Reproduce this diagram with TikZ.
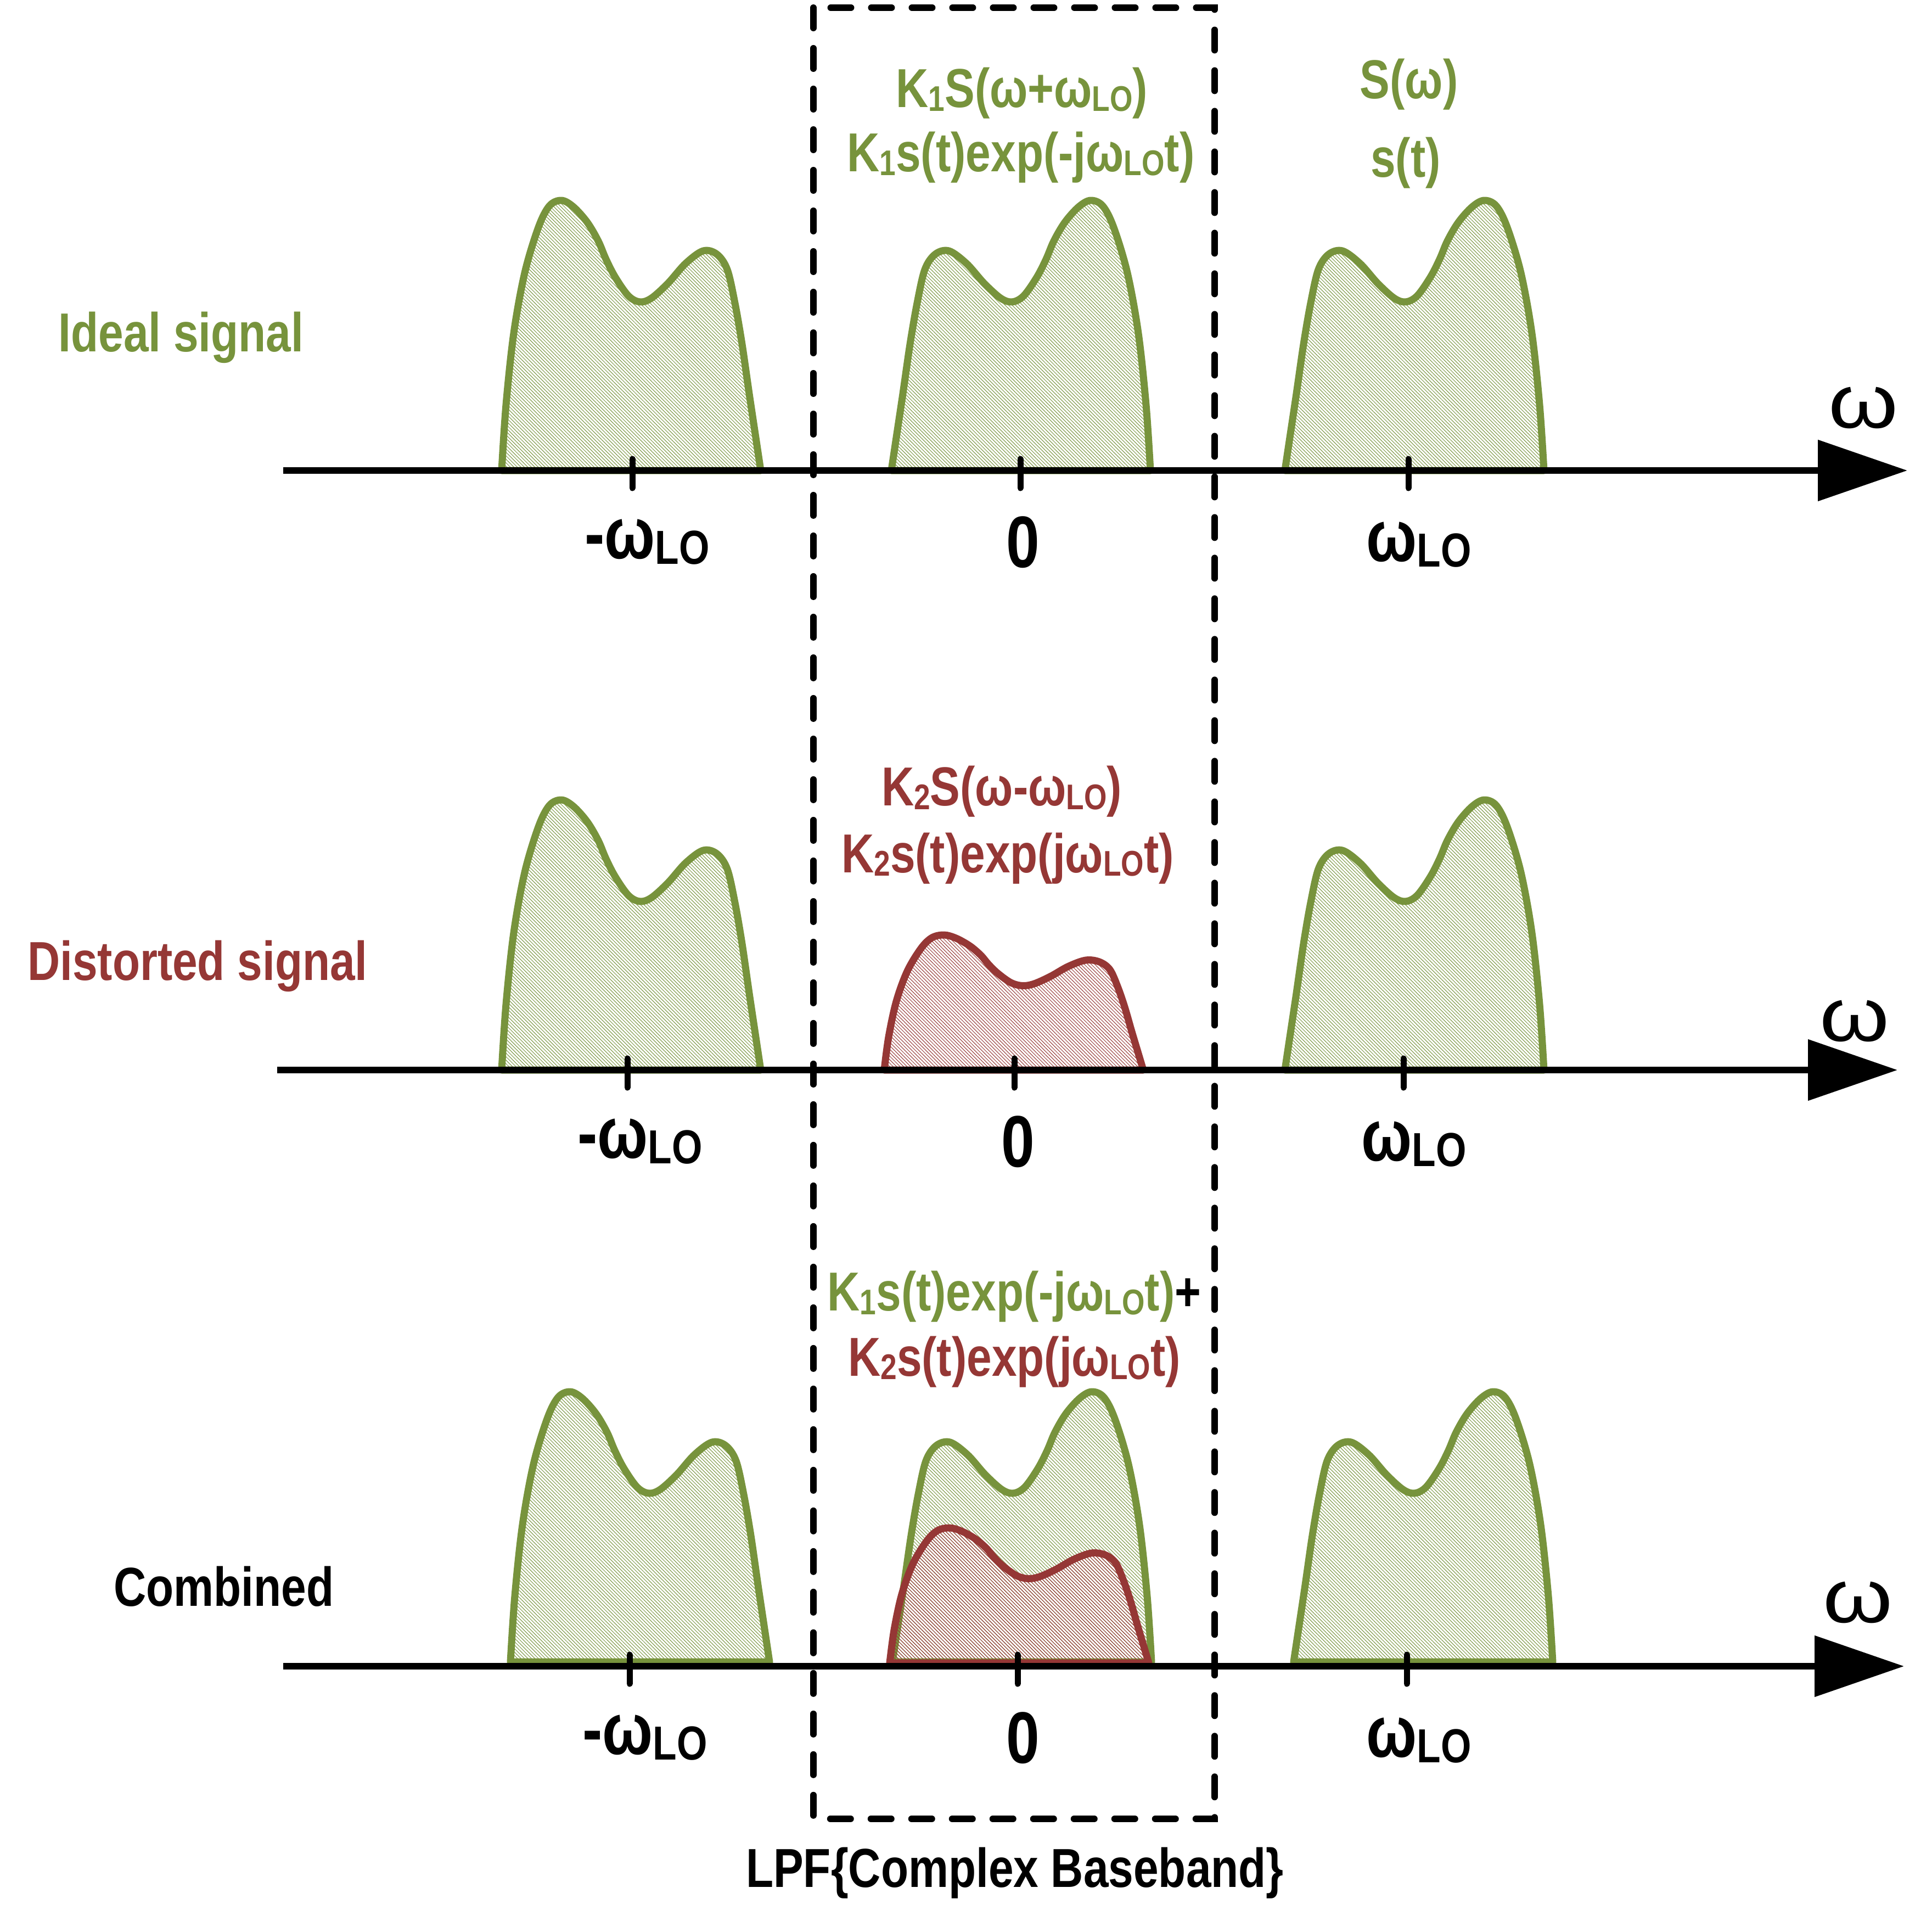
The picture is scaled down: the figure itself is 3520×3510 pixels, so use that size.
\documentclass[tikz,border=0pt]{standalone}
\usepackage{fontspec}
\setmainfont{Liberation Sans}[FakeStretch=0.82]
\newfontfamily\omegafont{Liberation Sans}
\usetikzlibrary{arrows.meta,patterns.meta}
\definecolor{gcol}{HTML}{77933C}
\definecolor{rcol}{HTML}{953735}
\newcommand{\lsub}[1]{\raisebox{-0.7pt}{\fontsize{6.5pt}{7pt}\selectfont #1}}
\newcommand{\bsub}[1]{\raisebox{-1pt}{\fontsize{8.7pt}{9pt}\selectfont #1}}
\newcommand{\lobeshape}[2]{\begin{scope}[#2]\draw[#1] plot[smooth,tension=0.55] coordinates {(-237,0) (-229,-120) (-215,-250) (-195,-360) (-170,-443) (-150,-482) (-128,-492) (-106,-480) (-81,-452) (-61,-418) (-47,-385) (-30,-352) (-6,-318) (15,-307) (36,-314) (66,-341) (98,-377) (130,-400) (155,-394) (174,-366) (188,-305) (201,-230) (214,-140) (226,-60) (235,0)} -- cycle;\end{scope}}
\begin{document}
\begin{tikzpicture}[x=0.1pt,y=-0.1pt,
  globe/.style={draw=gcol,line width=1.3pt,line join=round,pattern={Lines[angle=-45,distance=0.45pt,line width=0.1pt]},pattern color=gcol},
  rlobe/.style={draw=rcol,line width=1.3pt,line join=round,pattern={Lines[angle=-45,distance=0.45pt,line width=0.1pt]},pattern color=rcol},
  axis/.style={line width=1.2pt,-{Triangle[length=16.3pt,width=10.9pt]}},
  tick/.style={line width=1.1pt,line cap=round},
  dashbox/.style={line width=1.2pt,line cap=round,dash pattern=on 3.7pt off 3.7pt},
  lbl/.style={inner sep=0pt,anchor=base,font=\fontsize{10pt}{12pt}\selectfont\bfseries},
  axlbl/.style={inner sep=0pt,anchor=base,font=\fontsize{13.3pt}{15pt}\selectfont\bfseries},
  wlbl/.style={inner sep=0pt,anchor=base,font=\omegafont\fontsize{13.8pt}{15pt}\selectfont}]
\useasboundingbox (0,0) rectangle (3520,3510);

% ---------- top panel ----------
\lobeshape{globe}{shift={(1151,857)}}
\lobeshape{globe}{shift={(1859,857)},xscale=-1}
\lobeshape{globe}{shift={(2576,857)},xscale=-1}
\coordinate (a1s) at (516,857);
\coordinate (a1e) at (3475,857);
\draw[axis] (a1s) -- (a1e);
\foreach \x in {1152,1859,2566}{\draw[tick] (\x,836) -- (\x,889);}

% ---------- middle panel ----------
\lobeshape{globe}{shift={(1151,1949)}}
\lobeshape{rlobe}{shift={(1848,1949)},yscale=0.5}
\lobeshape{globe}{shift={(2576,1949)},xscale=-1}
\coordinate (a2s) at (505,1949);
\coordinate (a2e) at (3457,1949);
\draw[axis] (a2s) -- (a2e);
\foreach \x in {1143,1848,2557}{\draw[tick] (\x,1928) -- (\x,1981);}

% ---------- bottom panel ----------
\lobeshape{globe}{shift={(1167,3027)}}
\lobeshape{globe}{shift={(1861,3027)},xscale=-1}
\lobeshape{rlobe}{shift={(1858,3029)},yscale=0.5}
\lobeshape{globe}{shift={(2592,3027)},xscale=-1}
\coordinate (a3s) at (516,3035);
\coordinate (a3e) at (3469,3035);
\draw[axis] (a3s) -- (a3e);
\foreach \x in {1147,1854,2563}{\draw[tick] (\x,3014) -- (\x,3067);}

% ---------- LPF box ----------
\coordinate (boxtl) at (1482,14);
\coordinate (boxbr) at (2213,3313);
\draw[dashbox] (boxtl) rectangle (boxbr);

% ---------- axis labels ----------
\node[axlbl] (t1) at (1179,1017) {-ω\bsub{LO}};
\node[axlbl] (t2) at (1864,1033) {0};
\node[axlbl] (t3) at (2585,1022) {ω\bsub{LO}};
\node[axlbl] (m1) at (1166,2109) {-ω\bsub{LO}};
\node[axlbl] (m2) at (1855,2125) {0};
\node[axlbl] (m3) at (2576,2114) {ω\bsub{LO}};
\node[axlbl] (b1) at (1175,3195) {-ω\bsub{LO}};
\node[axlbl] (b2) at (1864,3211) {0};
\node[axlbl] (b3) at (2585,3200) {ω\bsub{LO}};

\node[wlbl] (w1) at (3395,780) {\scalebox{1.18}[1]{ω}};
\node[wlbl] (w2) at (3379,1896) {\scalebox{1.18}[1]{ω}};
\node[wlbl] (w3) at (3385,2955) {\scalebox{1.18}[1]{ω}};

% ---------- signal labels ----------
\node[lbl,text=gcol] (k1S) at (1862,195) {K\lsub{1}S(ω+ω\lsub{LO})};
\node[lbl,text=gcol] (k1s) at (1860,313) {K\lsub{1}s(t)exp(-jω\lsub{LO}t)};
\node[lbl,text=gcol] (Sw) at (2567,180) {S(ω)};
\node[lbl,text=gcol] (st) at (2561,322) {s(t)};
\node[lbl,text=rcol] (k2S) at (1825,1468) {K\lsub{2}S(ω-ω\lsub{LO})};
\node[lbl,text=rcol] (k2s) at (1836,1589) {K\lsub{2}s(t)exp(jω\lsub{LO}t)};
\node[lbl,text=gcol] (c1) at (1848,2387) {K\lsub{1}s(t)exp(-jω\lsub{LO}t)\textcolor{black}{+}};
\node[lbl,text=rcol] (c2) at (1848,2506) {K\lsub{2}s(t)exp(jω\lsub{LO}t)};
\node[lbl] (lpf) at (1849,3437) {LPF\{Complex Baseband\}};

\node[lbl,text=gcol] (ideal) at (330,640) {Ideal signal};
\node[lbl,text=rcol] (dist) at (360,1785) {Distorted signal};
\node[lbl] (comb) at (408,2925) {Combined};
\end{tikzpicture}
\end{document}
